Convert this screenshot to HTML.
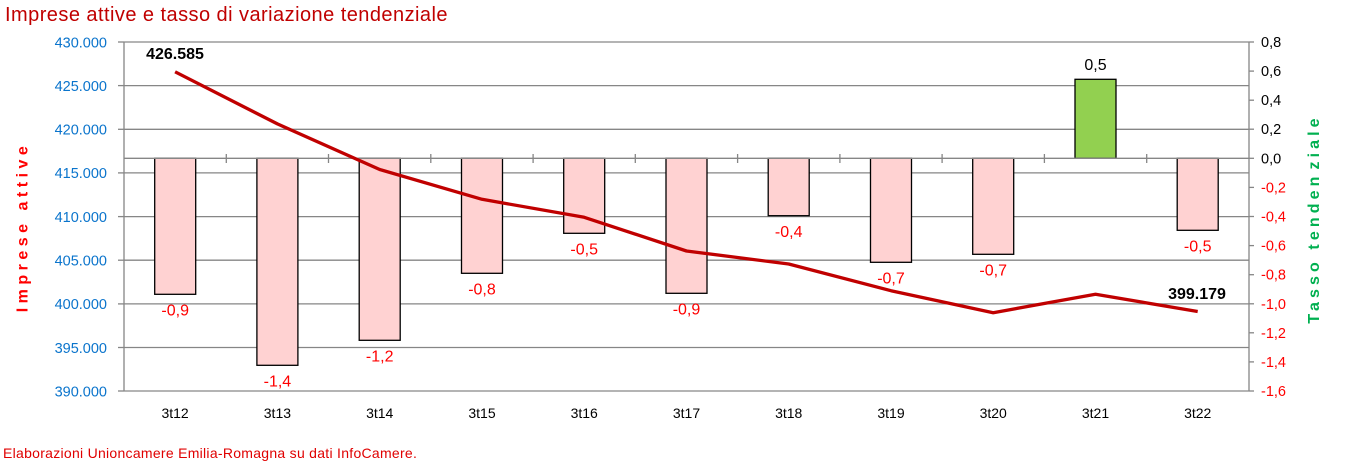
<!DOCTYPE html>
<html><head><meta charset="utf-8"><style>
html,body{margin:0;padding:0;background:#fff;}
svg{display:block;font-family:"Liberation Sans",Arial,sans-serif;}
</style></head><body>
<svg width="1350" height="461" viewBox="0 0 1350 461" xmlns="http://www.w3.org/2000/svg">
<rect width="1350" height="461" fill="#fff"/>
<text x="5" y="21" font-size="20" fill="#c00000" letter-spacing="0.45">Imprese attive e tasso di variazione tendenziale</text>

<!-- gridlines -->
<g stroke="#868686" stroke-width="1.3">
<line x1="124" y1="42" x2="1249" y2="42"/>
<line x1="124" y1="85.6" x2="1249" y2="85.6"/>
<line x1="124" y1="129.3" x2="1249" y2="129.3"/>
<line x1="124" y1="172.9" x2="1249" y2="172.9"/>
<line x1="124" y1="216.6" x2="1249" y2="216.6"/>
<line x1="124" y1="260.2" x2="1249" y2="260.2"/>
<line x1="124" y1="303.9" x2="1249" y2="303.9"/>
<line x1="124" y1="347.5" x2="1249" y2="347.5"/>
<line x1="124" y1="391" x2="1249" y2="391"/>
<!-- axes -->
<line x1="124" y1="42" x2="124" y2="391"/>
<line x1="1249" y1="42" x2="1249" y2="391"/>
<!-- left ticks -->
<line x1="118" y1="42" x2="124" y2="42"/>
<line x1="118" y1="85.6" x2="124" y2="85.6"/>
<line x1="118" y1="129.3" x2="124" y2="129.3"/>
<line x1="118" y1="172.9" x2="124" y2="172.9"/>
<line x1="118" y1="216.6" x2="124" y2="216.6"/>
<line x1="118" y1="260.2" x2="124" y2="260.2"/>
<line x1="118" y1="303.9" x2="124" y2="303.9"/>
<line x1="118" y1="347.5" x2="124" y2="347.5"/>
<line x1="118" y1="391" x2="124" y2="391"/>
<!-- right ticks -->
<line x1="1249" y1="42" x2="1254" y2="42"/>
<line x1="1249" y1="71.1" x2="1254" y2="71.1"/>
<line x1="1249" y1="100.2" x2="1254" y2="100.2"/>
<line x1="1249" y1="129.2" x2="1254" y2="129.2"/>
<line x1="1249" y1="158.3" x2="1254" y2="158.3"/>
<line x1="1249" y1="187.4" x2="1254" y2="187.4"/>
<line x1="1249" y1="216.5" x2="1254" y2="216.5"/>
<line x1="1249" y1="245.6" x2="1254" y2="245.6"/>
<line x1="1249" y1="274.7" x2="1254" y2="274.7"/>
<line x1="1249" y1="303.8" x2="1254" y2="303.8"/>
<line x1="1249" y1="332.8" x2="1254" y2="332.8"/>
<line x1="1249" y1="361.9" x2="1254" y2="361.9"/>
<line x1="1249" y1="391" x2="1254" y2="391"/>
</g>

<!-- bars -->
<g stroke="#000" stroke-width="1.3" fill="#ffd2d2">
<rect x="154.7" y="158.3" width="41" height="136"/>
<rect x="256.9" y="158.3" width="41" height="207"/>
<rect x="359.2" y="158.3" width="41" height="182"/>
<rect x="461.5" y="158.3" width="41" height="115"/>
<rect x="563.7" y="158.3" width="41" height="75"/>
<rect x="666" y="158.3" width="41" height="135"/>
<rect x="768.2" y="158.3" width="41" height="57.4"/>
<rect x="870.5" y="158.3" width="41" height="104"/>
<rect x="972.7" y="158.3" width="41" height="96"/>
<rect x="1075" y="79.3" width="41" height="79" fill="#92d050"/>
<rect x="1177.2" y="158.3" width="41" height="72"/>
</g>

<!-- zero axis with ticks -->
<g stroke="#868686" stroke-width="1.3">
<line x1="124" y1="158.3" x2="1249" y2="158.3"/>
<line x1="226.3" y1="154" x2="226.3" y2="163"/>
<line x1="328.5" y1="154" x2="328.5" y2="163"/>
<line x1="430.8" y1="154" x2="430.8" y2="163"/>
<line x1="533.1" y1="154" x2="533.1" y2="163"/>
<line x1="635.3" y1="154" x2="635.3" y2="163"/>
<line x1="737.6" y1="154" x2="737.6" y2="163"/>
<line x1="839.9" y1="154" x2="839.9" y2="163"/>
<line x1="942.1" y1="154" x2="942.1" y2="163"/>
<line x1="1044.4" y1="154" x2="1044.4" y2="163"/>
<line x1="1146.7" y1="154" x2="1146.7" y2="163"/>
</g>

<!-- line series -->
<polyline fill="none" stroke="#c00000" stroke-width="3.3" stroke-linejoin="round" stroke-linecap="butt"
points="175.1,71.8 277.4,123.9 379.7,169.5 482,199.3 584.2,217.3 686.5,251 788.7,264 891,290.7 993.2,312.7 1095.5,294.3 1197.7,311.5"/>

<!-- data labels bars -->
<g font-size="16" fill="#ff0000" text-anchor="middle">
<text x="175.2" y="315.5">-0,9</text>
<text x="277.4" y="386.5">-1,4</text>
<text x="379.7" y="361.5">-1,2</text>
<text x="482" y="294.5">-0,8</text>
<text x="584.2" y="254.5">-0,5</text>
<text x="686.5" y="314.5">-0,9</text>
<text x="788.7" y="237">-0,4</text>
<text x="891" y="283.5">-0,7</text>
<text x="993.2" y="275.5">-0,7</text>
<text x="1095.5" y="70" fill="#000">0,5</text>
<text x="1197.7" y="251.5">-0,5</text>
</g>
<g font-size="16" font-weight="bold" fill="#000" text-anchor="middle">
<text x="175" y="59">426.585</text>
<text x="1197" y="299">399.179</text>
</g>

<!-- left labels -->
<g font-size="14.5" fill="#0a74cc" text-anchor="end">
<text x="107" y="47.3">430.000</text>
<text x="107" y="90.9">425.000</text>
<text x="107" y="134.6">420.000</text>
<text x="107" y="178.2">415.000</text>
<text x="107" y="221.9">410.000</text>
<text x="107" y="265.5">405.000</text>
<text x="107" y="309.2">400.000</text>
<text x="107" y="352.8">395.000</text>
<text x="107" y="396.3">390.000</text>
</g>

<!-- right labels -->
<g font-size="14.5" fill="#000">
<text x="1261" y="47">0,8</text>
<text x="1261" y="76.1">0,6</text>
<text x="1261" y="105.2">0,4</text>
<text x="1261" y="134.2">0,2</text>
<text x="1261" y="163.3">0,0</text>
<g fill="#ff0000">
<text x="1261" y="192.4">-0,2</text>
<text x="1261" y="221.5">-0,4</text>
<text x="1261" y="250.6">-0,6</text>
<text x="1261" y="279.7">-0,8</text>
<text x="1261" y="308.8">-1,0</text>
<text x="1261" y="337.8">-1,2</text>
<text x="1261" y="366.9">-1,4</text>
<text x="1261" y="396">-1,6</text>
</g>
</g>

<!-- category labels -->
<g font-size="14" fill="#000" text-anchor="middle">
<text x="175.1" y="418">3t12</text>
<text x="277.4" y="418">3t13</text>
<text x="379.7" y="418">3t14</text>
<text x="482" y="418">3t15</text>
<text x="584.2" y="418">3t16</text>
<text x="686.5" y="418">3t17</text>
<text x="788.7" y="418">3t18</text>
<text x="891" y="418">3t19</text>
<text x="993.2" y="418">3t20</text>
<text x="1095.5" y="418">3t21</text>
<text x="1197.7" y="418">3t22</text>
</g>

<!-- axis titles -->
<text transform="translate(27.3,227) rotate(-90)" font-size="16" font-weight="bold" fill="#ff0000" text-anchor="middle" letter-spacing="4.5">Imprese attive</text>
<text transform="translate(1319,219) rotate(-90)" font-size="16" font-weight="bold" fill="#00b050" text-anchor="middle" letter-spacing="4.1">Tasso tenden<tspan dx="3">ziale</tspan></text>

<text x="3" y="458" font-size="14" fill="#e00000" letter-spacing="0.28">Elaborazioni Unioncamere Emilia-Romagna su dati InfoCamere.</text>
</svg>
</body></html>
